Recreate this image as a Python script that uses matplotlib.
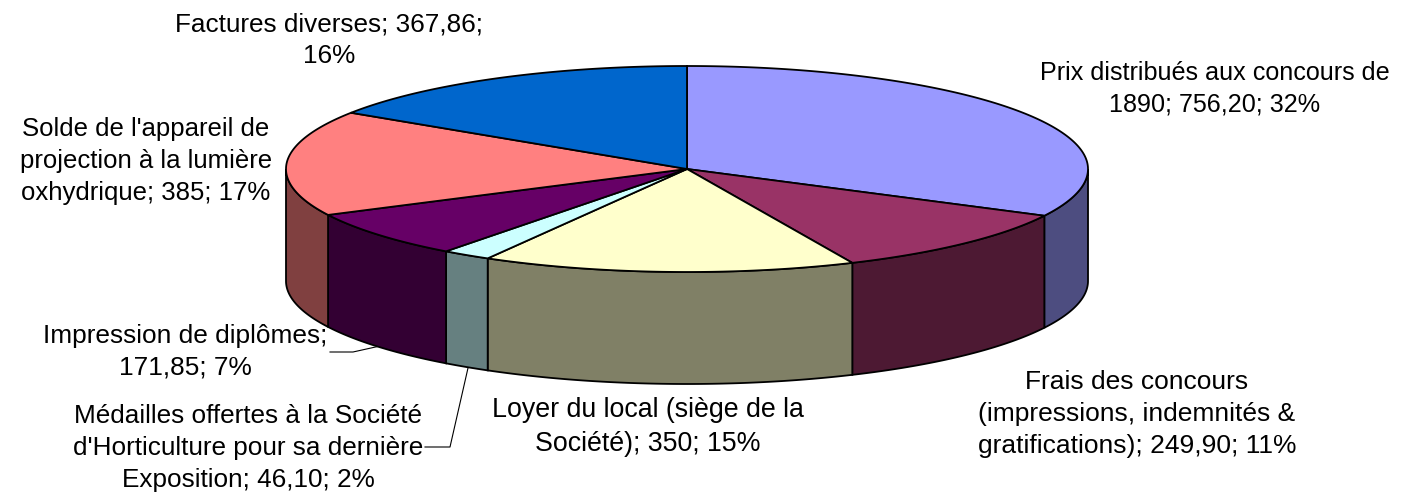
import numpy as np
import matplotlib
matplotlib.use('Agg')
import matplotlib.pyplot as plt
from matplotlib.patches import Polygon

plt.rcParams['font.family'] = ['Liberation Sans', 'DejaVu Sans']

values = [756.20, 249.90, 350, 46.10, 171.85, 385, 367.86]
top_colors = ['#9999FF', '#993366', '#FFFFCC', '#CCFFFF', '#660066', '#FF8080', '#0066CC']
side_colors = ['#4D4D80', '#4D1933', '#808066', '#668080', '#330033', '#804040', '#003366']
labels = [
    "Prix distribués aux concours de\n1890; 756,20; 32%",
    "Frais des concours\n(impressions, indemnités &\ngratifications); 249,90; 11%",
    "Loyer du local (siège de la\nSociété); 350; 15%",
    "Médailles offertes à la Société\nd'Horticulture pour sa dernière\nExposition; 46,10; 2%",
    "Impression de diplômes;\n171,85; 7%",
    "Solde de l'appareil de\nprojection à la lumière\noxhydrique; 385; 17%",
    "Factures diverses; 367,86;\n16%",
]
label_pos = [(1215, 89), (1137, 414), (648, 427), (248, 448), (185, 352), (146, 161), (329, 40)]
# widths in the reference differ a bit from label to label
label_size = [18.1, 19.0, 19.3, 18.8, 18.9, 18.5, 18.8]

W, H = 1411, 496
cx, cy = 687, 169
rx, ry = 401, 103
depth = 112


def ell(a):
    # a in degrees, clockwise from the top of the ellipse
    a = np.radians(a)
    return cx + rx * np.sin(a), cy - ry * np.cos(a)


def arc(a0, a1):
    t = np.linspace(a0, a1, max(int(abs(a1 - a0) * 2), 2))
    x, y = ell(t)
    return np.column_stack([x, y])


fig = plt.figure(figsize=(W / 100, H / 100), dpi=100)
ax = fig.add_axes([0, 0, 1, 1])
ax.set_xlim(0, W)
ax.set_ylim(H, 0)
ax.axis('off')

edges = np.cumsum([0] + values) / sum(values) * 360

# outer wall, only the front half of the ellipse shows
for i in range(len(values)):
    a0, a1 = max(edges[i], 90), min(edges[i + 1], 270)
    if a1 <= a0:
        continue
    top = arc(a0, a1)
    low = top[::-1] + [0, depth]
    ax.add_patch(Polygon(np.vstack([top, low]), closed=True, fc=side_colors[i], ec='black', lw=1.3, zorder=2))

# top face
for i in range(len(values)):
    pts = np.vstack([[cx, cy], arc(edges[i], edges[i + 1])])
    ax.add_patch(Polygon(pts, closed=True, fc=top_colors[i], ec='black', lw=1.3, zorder=3))

for lab, (x, y), size in zip(labels, label_pos, label_size):
    ax.text(x, y, lab, ha='center', va='center', fontsize=size, color='black', linespacing=1.42, zorder=5)

# leader lines
ax.plot([330, 353, 380], [352, 352, 346], color='black', lw=0.8, zorder=1)
ax.plot([425, 450, 468], [447, 447, 368], color='black', lw=0.8, zorder=1)

fig.savefig('out.png', dpi=100)
